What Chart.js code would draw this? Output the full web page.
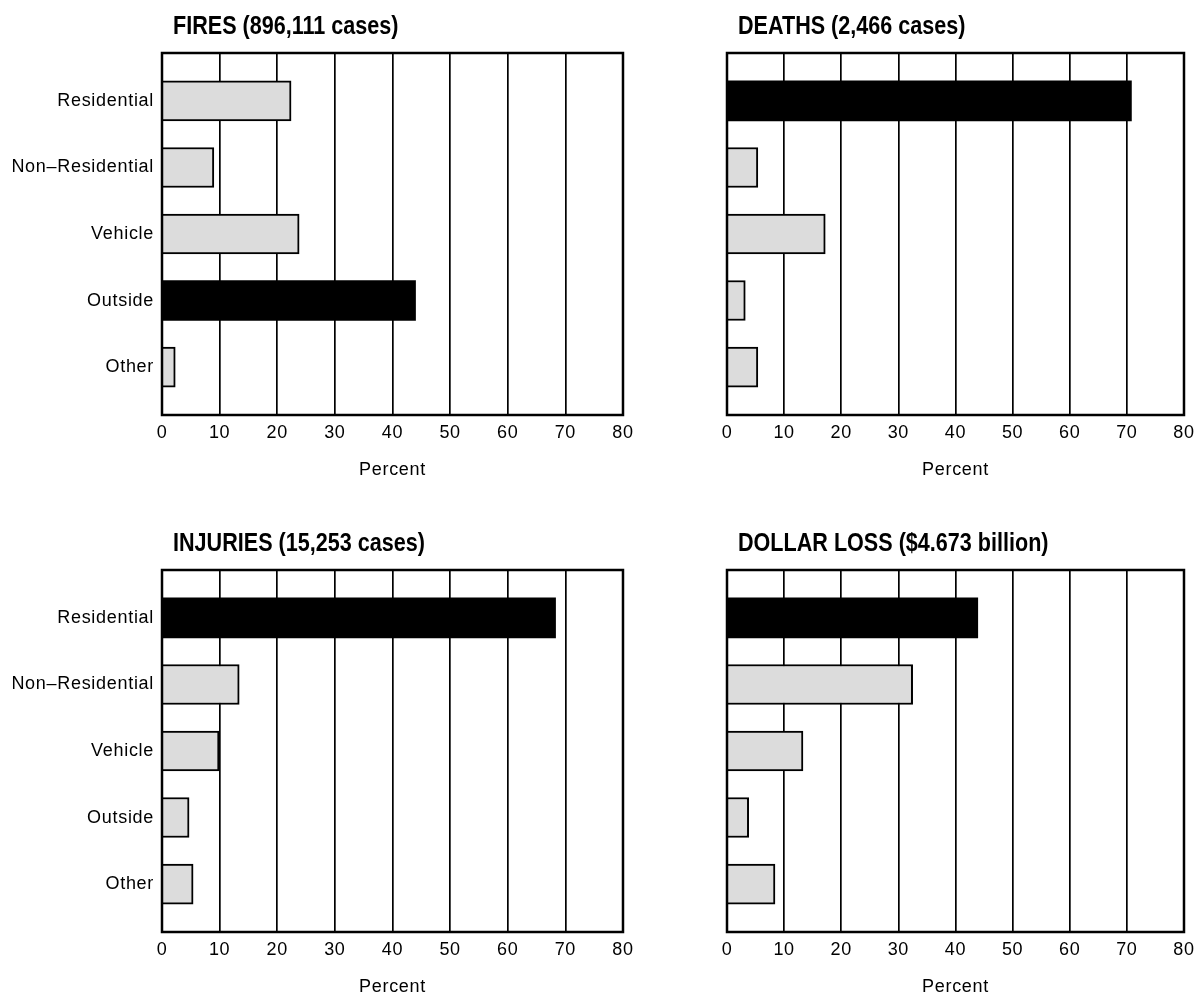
<!DOCTYPE html>
<html>
<head>
<meta charset="utf-8">
<script src="https://cdn.jsdelivr.net/npm/chart.js@4.4.1/dist/chart.umd.min.js"></script>
<style>
  body { margin: 0; background: #fff; }
  #wrap { position: relative; width: 1201px; height: 1000px; }
  .panel { position: absolute; }
</style>
</head>
<body>
<div id="wrap">
  <canvas class="panel" id="fires" width="640" height="483" style="left:0;top:0"></canvas>
  <canvas class="panel" id="deaths" width="561" height="483" style="left:640px;top:0"></canvas>
  <canvas class="panel" id="injuries" width="640" height="483" style="left:0;top:517px"></canvas>
  <canvas class="panel" id="dollars" width="561" height="483" style="left:640px;top:517px"></canvas>
</div>
<script>
// categorias e percentuais
const categories = ['Residential', 'Non\u2013Residential', 'Vehicle', 'Outside', 'Other'];
const fires = [22.4, 9.0, 23.8, 44.0, 2.3];
const deaths = [70.8, 5.4, 17.2, 3.2, 5.4];
const injuries = [68.3, 13.4, 9.9, 4.7, 5.4];
const dollarLoss = [43.9, 32.5, 13.3, 3.8, 8.4];
const percentMax = 80;
const percentStep = 10;

const tickFont = { family: "'Liberation Sans', Arial, sans-serif", size: 18 };

// fonte mais espaçada, como no original
const espacamento = {
  id: 'espacamento',
  beforeDraw(chart) { chart.ctx.letterSpacing = '0.7px'; }
};

// titulo (estreito) um pouco à direita da área do gráfico + moldura
const panelTitle = {
  id: 'panelTitle',
  afterDraw(chart, args, opts) {
    const ctx = chart.ctx;
    const a = chart.chartArea;
    ctx.save();
    ctx.letterSpacing = '0px';
    ctx.font = "bold 26px 'Liberation Sans', Arial, sans-serif";
    ctx.fillStyle = '#000';
    ctx.textBaseline = 'alphabetic';
    ctx.textAlign = 'left';
    ctx.translate(a.left + 11, 34);
    ctx.scale(0.83, 1);
    ctx.fillText(opts.text, 0, 0);
    ctx.restore();
    ctx.save();
    ctx.lineWidth = 2.5;
    ctx.strokeStyle = '#000';
    ctx.strokeRect(a.left, a.top, a.right - a.left, a.bottom - a.top);
    ctx.restore();
  }
};

function desenha(id, title, values, showLabels) {
  const maior = Math.max(...values);
  const ctx = document.getElementById(id).getContext('2d');
  new Chart(ctx, {
    type: 'bar',
    data: {
      datasets: [{
        data: values.map((v, i) => ({ x: v, y: i })),
        backgroundColor: values.map(v => v === maior ? '#000' : '#dcdcdc'),
        borderColor: '#000',
        borderWidth: values.map(v => v === maior ? 0 : 2),
        barThickness: 40
      }]
    },
    options: {
      indexAxis: 'y',
      responsive: false,
      animation: false,
      layout: { padding: { top: 53, right: showLabels ? 17 : 12, bottom: 0, left: 0 } },
      scales: {
        x: {
          min: 0,
          max: percentMax,
          grid: { color: '#000', lineWidth: 1.7, drawTicks: false },
          border: { display: false },
          ticks: { stepSize: percentStep, color: '#000', font: tickFont, padding: 7, maxRotation: 0 },
          title: { display: true, text: 'Percent', color: '#000', font: tickFont, padding: { top: 4, bottom: 2 } },
          afterFit(scale) { scale.height = 68; }
        },
        y: {
          type: 'linear',
          reverse: true,
          offset: false,
          min: -0.72,
          max: categories.length - 1 + 0.72,
          grid: { display: false, drawTicks: false },
          border: { display: false },
          afterBuildTicks(scale) { scale.ticks = categories.map((c, i) => ({ value: i })); },
          ticks: {
            display: showLabels,
            color: '#000',
            font: tickFont,
            padding: 8,
            callback: v => categories[v]
          },
          afterFit(scale) { scale.width = showLabels ? 162 : 87; }
        }
      },
      plugins: {
        legend: { display: false },
        tooltip: { enabled: false },
        panelTitle: { text: title }
      }
    },
    plugins: [espacamento, panelTitle]
  });
}

desenha('fires', 'FIRES (896,111 cases)', fires, true);
desenha('deaths', 'DEATHS (2,466 cases)', deaths, false);
desenha('injuries', 'INJURIES (15,253 cases)', injuries, true);
desenha('dollars', 'DOLLAR LOSS ($4.673 billion)', dollarLoss, false);
</script>
</body>
</html>
